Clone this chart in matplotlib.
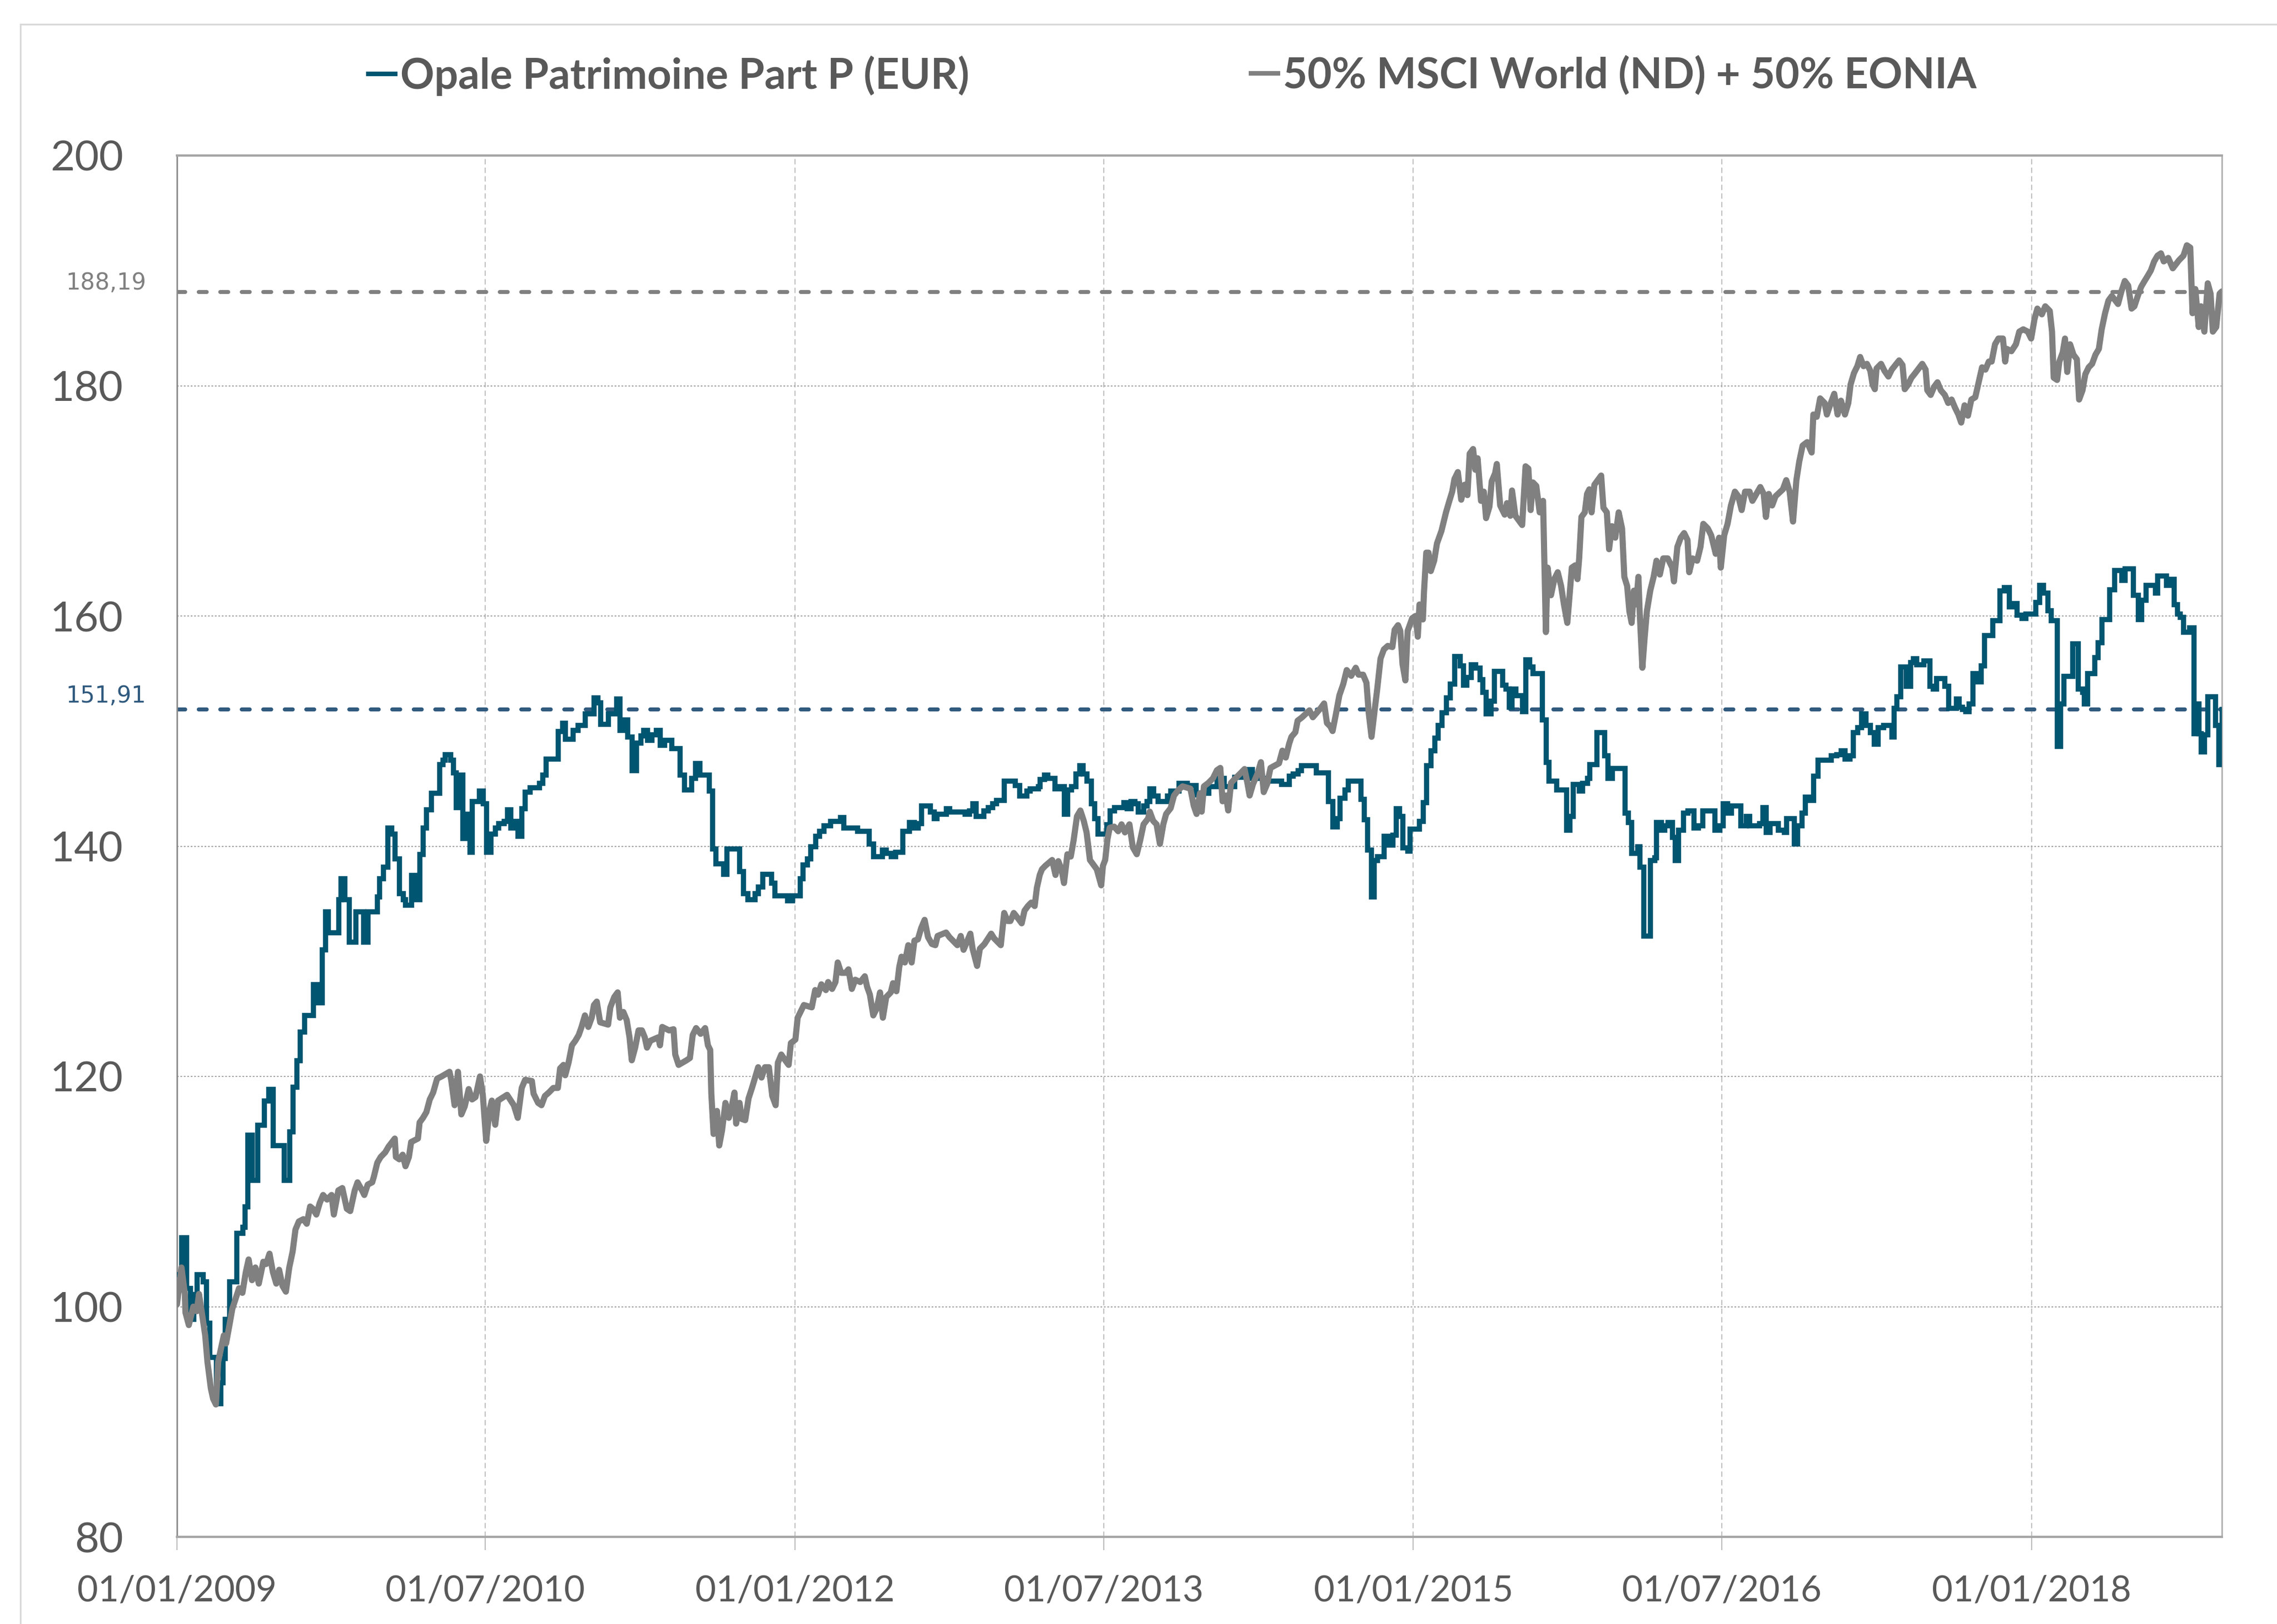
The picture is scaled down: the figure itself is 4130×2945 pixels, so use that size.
import numpy as np
import matplotlib
matplotlib.use("Agg")
import matplotlib.pyplot as plt
import matplotlib.dates as mdates
from matplotlib.lines import Line2D
from matplotlib.patches import Rectangle

plt.rcParams['font.family'] = ['Lato', 'DejaVu Sans']

START = np.datetime64("2009-01-01")

# Opale Patrimoine Part P (EUR): days since 01/01/2009 and NAV (base 100), step series
opale_days = [
    0, 8, 17, 23, 29, 35, 46, 52, 58, 69, 77, 81, 85, 93, 106, 116, 120, 125, 133, 143,
    154, 162, 170, 190, 199, 205, 212, 218, 226, 241, 249, 257, 263, 268, 286, 290, 297, 305, 317, 330,
    338, 355, 359, 365, 373, 380, 386, 394, 401, 405, 415, 421, 430, 436, 442, 450, 465, 471, 475, 485,
    490, 494, 502, 506, 514, 519, 523, 535, 542, 548, 556, 564, 570, 579, 585, 591, 597, 604, 611, 617,
    625, 642, 648, 654, 675, 683, 688, 702, 710, 723, 739, 746, 750, 764, 779, 785, 793, 798, 806, 814,
    822, 827, 833, 841, 849, 856, 864, 876, 891, 899, 912, 918, 926, 943, 949, 955, 968, 974, 997, 1003,
    1011, 1024, 1030, 1038, 1053, 1059, 1082, 1090, 1104, 1109, 1117, 1123, 1131, 1138, 1146, 1158, 1175, 1181, 1206, 1226,
    1234, 1250, 1257, 1265, 1273, 1286, 1298, 1306, 1313, 1319, 1335, 1342, 1346, 1363, 1369, 1396, 1404, 1410, 1416, 1429,
    1437, 1445, 1452, 1466, 1485, 1493, 1506, 1512, 1526, 1529, 1537, 1543, 1556, 1564, 1572, 1578, 1585, 1593, 1599, 1605,
    1612, 1620, 1626, 1632, 1647, 1653, 1661, 1678, 1684, 1690, 1697, 1703, 1713, 1719, 1724, 1730, 1738, 1755, 1761, 1775,
    1790, 1806, 1816, 1828, 1843, 1855, 1874, 1899, 1905, 1932, 1957, 1971, 1978, 1986, 1992, 2019, 2040, 2048, 2056, 2061,
    2069, 2075, 2098, 2104, 2110, 2116, 2121, 2127, 2139, 2148, 2154, 2160, 2166, 2172, 2181, 2185, 2201, 2208, 2214, 2222,
    2229, 2235, 2241, 2249, 2256, 2264, 2274, 2280, 2285, 2293, 2301, 2309, 2314, 2320, 2328, 2334, 2349, 2355, 2361, 2366,
    2372, 2384, 2390, 2397, 2403, 2419, 2426, 2431, 2445, 2462, 2468, 2474, 2485, 2491, 2499, 2503, 2516, 2530, 2536, 2543,
    2566, 2572, 2578, 2588, 2592, 2599, 2611, 2619, 2622, 2630, 2636, 2642, 2650, 2655, 2661, 2669, 2677, 2688, 2696, 2704,
    2725, 2734, 2740, 2748, 2754, 2771, 2781, 2787, 2804, 2810, 2816, 2823, 2837, 2848, 2852, 2866, 2872, 2879, 2885, 2893,
    2900, 2908, 2931, 2941, 2949, 2956, 2964, 2970, 2978, 2985, 2993, 3001, 3007, 3014, 3024, 3039, 3043, 3048, 3054, 3064,
    3072, 3077, 3083, 3095, 3106, 3112, 3118, 3133, 3139, 3153, 3158, 3164, 3170, 3176, 3182, 3189, 3197, 3203, 3218, 3230,
    3238, 3247, 3255, 3261, 3269, 3276, 3294, 3301, 3307, 3315, 3321, 3332, 3338, 3344, 3359, 3369, 3377, 3380, 3386, 3398,
    3404, 3411, 3425, 3433, 3446, 3452, 3467, 3475, 3481, 3489, 3506, 3510, 3525, 3533, 3539, 3545, 3550, 3556, 3566, 3574,
    3577, 3583, 3587, 3593, 3599, 3612, 3618, 3624,
]
opale_vals = [
    102.8, 106.0, 101.6, 98.9, 101.1, 102.8, 102.2, 98.6, 95.6, 91.6, 93.4, 95.5, 98.9, 102.2, 106.4, 106.9, 108.7, 114.9, 111.0, 115.8,
    117.9, 118.9, 114.0, 111.0, 115.2, 119.1, 121.4, 123.9, 125.3, 128.0, 126.4, 131.0, 134.3, 132.5, 135.4, 137.2, 135.4, 131.7, 134.3, 131.7,
    134.3, 135.6, 137.2, 138.2, 141.6, 141.1, 138.9, 135.9, 135.4, 134.9, 137.5, 135.4, 139.3, 141.6, 143.2, 144.6, 147.1, 147.5, 148.0, 147.5,
    146.4, 143.4, 146.2, 140.7, 142.8, 139.5, 143.9, 144.8, 143.7, 139.5, 141.1, 141.6, 142.0, 142.2, 143.2, 141.6, 142.2, 140.9, 143.3, 144.7,
    145.1, 145.5, 146.2, 147.6, 150.0, 150.7, 149.3, 150.1, 150.5, 151.5, 152.9, 152.5, 150.6, 151.5, 152.8, 150.1, 151.0, 149.5, 146.6, 149.0,
    149.6, 150.1, 149.2, 149.7, 150.1, 148.8, 149.2, 148.5, 146.2, 144.9, 145.9, 147.2, 146.2, 144.8, 139.8, 138.5, 137.6, 139.8, 137.8, 135.9,
    135.4, 135.9, 136.5, 137.6, 136.8, 135.7, 135.3, 135.7, 137.2, 138.4, 138.9, 140.0, 140.9, 141.3, 141.8, 142.2, 142.5, 141.6, 141.3, 140.2,
    139.1, 139.7, 139.4, 139.1, 139.5, 141.3, 142.1, 141.6, 142.0, 143.5, 143.0, 142.4, 142.8, 143.3, 143.0, 142.8, 143.1, 143.7, 142.6, 143.1,
    143.4, 143.7, 144.0, 145.7, 145.3, 144.4, 144.8, 145.0, 145.2, 145.8, 146.2, 145.9, 145.0, 145.2, 142.8, 144.9, 145.2, 146.3, 147.0, 146.3,
    145.7, 143.7, 142.4, 141.1, 141.9, 143.1, 143.4, 143.8, 143.3, 143.9, 143.7, 143.0, 143.5, 143.9, 145.0, 144.4, 143.9, 144.4, 144.8, 145.5,
    145.3, 144.5, 144.6, 145.2, 145.9, 145.2, 146.0, 146.7, 145.9, 145.7, 145.4, 146.1, 146.3, 146.6, 147.0, 146.4, 143.9, 141.7, 142.4, 144.2,
    144.9, 145.7, 144.1, 142.3, 139.7, 135.6, 138.8, 139.1, 140.9, 140.1, 141.0, 143.3, 142.6, 139.9, 139.6, 141.5, 142.2, 143.8, 147.0, 148.3,
    149.4, 150.5, 151.6, 152.9, 154.1, 156.5, 155.7, 154.0, 154.7, 155.8, 155.5, 154.5, 153.4, 151.5, 152.6, 155.2, 154.0, 153.7, 152.1, 153.7,
    153.1, 151.7, 156.2, 155.6, 155.0, 151.0, 147.3, 145.7, 144.9, 141.4, 142.6, 145.4, 144.8, 145.5, 145.9, 147.1, 149.9, 147.9, 145.9, 146.8,
    142.9, 142.1, 139.4, 140.0, 138.2, 132.2, 138.8, 139.0, 142.1, 141.4, 141.8, 142.1, 140.8, 138.8, 141.4, 142.9, 143.1, 141.6, 141.8, 143.1,
    141.4, 141.8, 143.7, 142.9, 143.5, 141.8, 142.6, 141.8, 142.0, 143.4, 141.2, 142.0, 141.4, 141.2, 142.4, 140.2, 141.8, 142.9, 144.3, 144.0,
    146.1, 147.5, 147.9, 148.0, 148.3, 147.6, 147.9, 149.9, 150.3, 151.5, 150.5, 149.9, 148.9, 150.3, 150.5, 149.5, 152.0, 153.0, 155.6, 153.9,
    156.0, 156.3, 155.8, 156.1, 153.9, 153.7, 154.6, 153.9, 152.0, 152.8, 152.1, 151.9, 151.7, 152.4, 155.0, 154.3, 155.7, 158.3, 159.6, 162.2,
    162.5, 160.8, 161.1, 160.1, 159.8, 160.2, 161.2, 162.7, 162.0, 160.5, 159.6, 148.7, 152.4, 154.8, 157.6, 153.7, 153.4, 152.4, 155.0, 156.4,
    157.7, 159.7, 162.3, 164.0, 163.1, 164.1, 161.8, 159.7, 161.4, 162.7, 162.0, 163.5, 162.7, 163.2, 161.0, 160.2, 159.9, 158.6, 159.0, 149.8,
    152.4, 149.8, 148.2, 149.7, 153.0, 150.5, 147.1, 151.91,
]

# 50% MSCI World (ND) + 50% EONIA: days since 01/01/2009 and level (base 100)
msci_days = [
    0, 8, 14, 15, 21, 29, 35, 39, 44, 50, 54, 60, 64, 69, 73, 79, 83, 87, 93, 98,
    104, 110, 116, 122, 127, 133, 139, 145, 153, 158, 164, 170, 176, 181, 187, 193, 199, 205, 210, 216,
    224, 230, 236, 241, 247, 253, 259, 266, 274, 278, 286, 293, 301, 307, 315, 320, 328, 332, 338, 346,
    349, 355, 361, 369, 375, 386, 388, 394, 400, 405, 411, 415, 427, 430, 436, 442, 448, 454, 461, 469,
    483, 486, 492, 498, 504, 510, 517, 523, 529, 537, 542, 548, 554, 558, 564, 569, 585, 597, 604, 611,
    617, 629, 632, 640, 646, 652, 659, 667, 675, 679, 685, 688, 694, 700, 706, 712, 717, 723, 729, 735,
    739, 744, 750, 764, 768, 775, 781, 785, 791, 797, 802, 806, 812, 818, 824, 829, 833, 839, 853, 856,
    860, 872, 880, 883, 889, 903, 909, 914, 920, 928, 936, 941, 945, 947, 951, 957, 961, 966, 972, 978,
    982, 988, 991, 997, 1001, 1007, 1013, 1019, 1030, 1036, 1042, 1049, 1055, 1061, 1065, 1071, 1078, 1084, 1088, 1096,
    1100, 1105, 1111, 1125, 1131, 1136, 1142, 1150, 1154, 1161, 1167, 1171, 1177, 1185, 1190, 1196, 1202, 1211, 1219, 1223,
    1228, 1234, 1240, 1246, 1251, 1257, 1265, 1269, 1275, 1280, 1284, 1290, 1296, 1302, 1307, 1313, 1319, 1325, 1331, 1338,
    1344, 1348, 1363, 1369, 1383, 1389, 1394, 1400, 1406, 1410, 1418, 1423, 1431, 1443, 1448, 1460, 1466, 1472, 1477, 1483,
    1491, 1497, 1502, 1508, 1514, 1520, 1524, 1529, 1533, 1539, 1551, 1557, 1562, 1568, 1572, 1578, 1584, 1589, 1595, 1601,
    1607, 1612, 1618, 1624, 1630, 1638, 1641, 1645, 1649, 1653, 1661, 1668, 1674, 1680, 1688, 1694, 1701, 1707, 1713, 1721,
    1724, 1730, 1736, 1742, 1748, 1753, 1761, 1767, 1775, 1782, 1796, 1802, 1807, 1813, 1816, 1820, 1828, 1836, 1843, 1849,
    1853, 1859, 1863, 1868, 1876, 1884, 1892, 1897, 1901, 1907, 1915, 1921, 1926, 1932, 1938, 1953, 1959, 1965, 1971, 1975,
    1982, 1986, 1994, 2007, 2013, 2027, 2033, 2038, 2044, 2048, 2054, 2060, 2067, 2073, 2081, 2089, 2094, 2102, 2108, 2112,
    2117, 2123, 2127, 2133, 2139, 2146, 2154, 2158, 2164, 2168, 2172, 2177, 2181, 2189, 2195, 2199, 2202, 2208, 2210, 2214,
    2218, 2222, 2228, 2233, 2241, 2249, 2255, 2260, 2264, 2270, 2276, 2282, 2287, 2291, 2297, 2301, 2305, 2311, 2316, 2320,
    2326, 2330, 2336, 2339, 2345, 2353, 2357, 2363, 2366, 2372, 2384, 2390, 2395, 2399, 2403, 2409, 2415, 2421, 2426, 2429,
    2435, 2441, 2447, 2453, 2458, 2464, 2468, 2472, 2478, 2482, 2485, 2489, 2495, 2499, 2503, 2507, 2512, 2518, 2524, 2528,
    2534, 2538, 2543, 2549, 2555, 2561, 2565, 2570, 2574, 2578, 2582, 2586, 2590, 2592, 2597, 2601, 2605, 2611, 2617, 2622,
    2628, 2634, 2642, 2650, 2653, 2659, 2665, 2671, 2677, 2680, 2686, 2694, 2700, 2705, 2713, 2719, 2727, 2733, 2736, 2742,
    2748, 2754, 2761, 2767, 2773, 2779, 2787, 2792, 2806, 2812, 2816, 2821, 2827, 2833, 2846, 2852, 2858, 2864, 2870, 2875,
    2881, 2889, 2897, 2900, 2906, 2912, 2920, 2924, 2931, 2937, 2943, 2949, 2956, 2962, 2966, 2972, 2978, 2983, 2989, 2995,
    3001, 3005, 3009, 3012, 3020, 3026, 3033, 3039, 3052, 3058, 3062, 3068, 3074, 3079, 3093, 3099, 3102, 3108, 3114, 3120,
    3126, 3133, 3139, 3145, 3151, 3157, 3162, 3168, 3174, 3180, 3187, 3193, 3199, 3205, 3211, 3216, 3222, 3228, 3236, 3240,
    3243, 3251, 3259, 3265, 3272, 3280, 3286, 3292, 3297, 3305, 3311, 3319, 3323, 3326, 3332, 3336, 3342, 3346, 3350, 3355,
    3361, 3367, 3371, 3377, 3382, 3388, 3394, 3400, 3406, 3411, 3417, 3423, 3429, 3440, 3446, 3452, 3458, 3464, 3469, 3475,
    3481, 3487, 3492, 3498, 3504, 3510, 3516, 3521, 3529, 3537, 3548, 3556, 3562, 3568, 3572, 3577, 3583, 3587, 3593, 3599,
    3604, 3608, 3614, 3620, 3624,
]
msci_vals = [
    100.2, 103.4, 101.1, 99.5, 98.4, 100.0, 99.6, 101.1, 99.5, 97.5, 95.2, 92.9, 92.0, 91.5, 95.2, 96.6, 97.5, 96.8, 98.4, 99.8,
    100.7, 101.6, 101.2, 103.0, 104.1, 102.3, 103.4, 102.0, 103.9, 103.7, 104.6, 103.0, 102.0, 103.2, 101.8, 101.3, 103.4, 104.8, 106.7, 107.4,
    107.6, 107.2, 108.7, 108.5, 108.0, 109.0, 109.7, 109.3, 109.7, 108.0, 110.1, 110.3, 108.5, 108.3, 110.1, 110.8, 110.1, 109.7, 110.6, 110.8,
    111.3, 112.5, 113.0, 113.4, 113.9, 114.6, 113.0, 112.8, 113.2, 112.2, 113.0, 114.3, 114.6, 116.0, 116.4, 116.9, 118.0, 118.6, 119.8, 120.0,
    120.4, 119.7, 117.5, 120.4, 116.7, 117.4, 118.9, 118.0, 118.2, 120.0, 118.4, 114.4, 117.1, 117.9, 115.8, 117.9, 118.4, 117.5, 116.4, 119.0,
    119.7, 119.6, 118.5, 117.7, 117.5, 118.3, 118.6, 119.0, 119.0, 120.7, 121.0, 120.1, 121.2, 122.7, 123.1, 123.6, 124.3, 125.3, 124.3, 125.1,
    126.2, 126.5, 124.7, 124.5, 126.0, 126.9, 127.3, 125.1, 125.6, 124.9, 123.4, 121.4, 122.5, 124.0, 124.0, 123.4, 122.5, 123.1, 123.4, 122.7,
    124.3, 124.0, 124.1, 121.9, 121.0, 121.4, 121.6, 123.6, 124.2, 123.7, 124.2, 122.7, 122.3, 118.5, 115.0, 117.0, 114.0, 115.3, 117.7, 116.4,
    117.1, 118.6, 115.9, 117.7, 116.3, 116.2, 118.1, 119.0, 120.8, 119.9, 120.8, 120.8, 118.3, 117.5, 121.2, 121.9, 121.4, 121.0, 122.9, 123.2,
    125.1, 125.6, 126.2, 126.0, 127.5, 127.1, 128.0, 127.5, 128.2, 127.6, 128.2, 129.9, 129.0, 129.0, 129.3, 127.6, 128.4, 128.2, 128.7, 127.8,
    127.1, 125.3, 125.9, 127.3, 125.1, 126.9, 127.3, 128.1, 127.4, 129.5, 130.4, 129.9, 131.4, 129.9, 131.8, 131.9, 132.9, 133.6, 132.1, 131.5,
    131.4, 132.2, 132.5, 132.1, 131.4, 132.2, 131.0, 131.7, 132.4, 131.1, 129.6, 131.1, 131.5, 132.4, 132.0, 131.4, 134.2, 133.5, 133.5, 134.2,
    133.7, 133.3, 134.4, 134.8, 135.1, 134.8, 136.4, 137.5, 138.0, 138.3, 138.8, 137.5, 138.7, 137.9, 136.8, 139.3, 139.1, 140.5, 142.6, 143.1,
    142.2, 141.2, 138.8, 138.4, 138.0, 136.6, 138.3, 138.8, 140.6, 141.6, 141.7, 141.3, 141.9, 141.2, 141.9, 139.9, 139.3, 140.5, 141.9, 142.4,
    143.0, 142.2, 141.9, 140.2, 141.9, 142.8, 143.3, 144.4, 144.9, 145.2, 145.0, 143.5, 142.8, 144.6, 143.0, 145.2, 145.5, 145.9, 146.6, 146.8,
    143.9, 144.4, 143.1, 145.5, 145.9, 146.3, 146.7, 145.5, 144.4, 145.4, 146.3, 147.3, 144.7, 145.4, 146.8, 147.2, 148.3, 147.7, 148.9, 149.5,
    149.9, 150.9, 151.2, 151.8, 151.2, 152.0, 152.4, 150.7, 150.4, 150.0, 151.5, 153.1, 154.1, 155.3, 154.8, 155.5, 154.9, 154.9, 154.2, 151.6,
    149.5, 152.0, 153.6, 156.3, 157.1, 157.4, 157.3, 158.8, 159.2, 158.7, 155.8, 154.4, 158.7, 159.8, 160.0, 158.2, 161.0, 159.7, 162.1, 165.5,
    165.5, 163.9, 164.8, 166.3, 167.4, 169.0, 170.0, 170.8, 171.9, 172.5, 170.1, 171.4, 170.5, 174.1, 174.5, 172.7, 173.7, 170.0, 170.8, 168.5,
    169.5, 171.7, 172.4, 173.2, 169.6, 168.8, 169.8, 168.7, 170.9, 168.7, 167.9, 173.0, 172.8, 169.2, 171.6, 171.3, 169.0, 170.0, 158.6, 164.2,
    161.8, 163.2, 163.8, 162.6, 161.0, 159.4, 161.8, 164.2, 164.4, 163.2, 165.0, 168.6, 169.0, 170.6, 171.0, 169.0, 171.4, 171.8, 172.2, 169.4,
    169.0, 165.8, 167.8, 166.8, 169.0, 167.6, 163.4, 162.6, 160.4, 159.4, 162.2, 161.0, 163.4, 160.6, 155.5, 158.1, 160.4, 162.2, 163.4, 164.8,
    163.6, 165.0, 165.0, 164.2, 163.0, 166.0, 166.8, 167.2, 166.6, 163.8, 165.0, 164.8, 166.0, 168.0, 167.6, 167.0, 165.4, 166.8, 164.2, 167.0,
    168.0, 169.6, 170.8, 170.4, 169.2, 170.8, 170.8, 170.0, 171.2, 170.6, 168.6, 170.6, 169.6, 170.4, 171.0, 171.8, 170.8, 168.2, 171.8, 173.4,
    174.8, 175.1, 174.2, 177.5, 177.3, 178.9, 178.5, 177.5, 178.5, 179.3, 177.5, 178.7, 177.5, 178.5, 180.1, 181.1, 181.7, 182.5, 181.7, 181.9,
    181.3, 180.1, 179.7, 181.5, 181.9, 181.3, 180.8, 181.4, 182.2, 181.8, 179.7, 180.1, 180.7, 181.0, 181.9, 181.4, 179.6, 179.2, 179.9, 180.3,
    179.6, 179.2, 178.5, 178.8, 178.1, 177.5, 176.8, 178.3, 177.4, 178.8, 179.0, 180.3, 181.6, 181.4, 182.1, 182.1, 183.6, 184.1, 184.1, 182.1,
    183.2, 183.0, 183.6, 184.7, 184.9, 184.7, 184.1, 185.8, 186.7, 186.2, 186.9, 186.5, 184.7, 180.7, 180.5, 182.1, 182.9, 184.1, 181.2, 183.6,
    182.7, 182.3, 178.8, 179.6, 181.0, 181.6, 181.9, 182.7, 183.2, 184.9, 186.3, 187.4, 187.8, 187.1, 188.2, 189.1, 188.7, 186.7, 186.9, 187.8,
    188.6, 189.1, 189.5, 190.0, 190.8, 191.3, 191.5, 190.8, 191.1, 190.2, 190.9, 191.3, 192.2, 192.0, 186.3, 188.4, 185.1, 186.9, 184.7, 188.9,
    188.0, 184.7, 185.1, 188.0, 188.19,
]

opale_label = "Opale Patrimoine Part P (EUR)"
msci_label = "50% MSCI World (ND) + 50% EONIA"
opale_last = 151.91
msci_last = 188.19

y_ticks = [80, 100, 120, 140, 160, 180, 200]
x_tick_dates = ["2009-01-01", "2010-07-01", "2012-01-01", "2013-07-01",
                "2015-01-01", "2016-07-01", "2018-01-01"]

BLUE = "#005570"
BLUE_DASH = "#305a7e"
GREY = "#808080"
TEXT = "#595959"

opale_dates = START + np.array(opale_days).astype("timedelta64[D]")
msci_dates = START + np.array(msci_days).astype("timedelta64[D]")

W, H = 4130, 2945
fig = plt.figure(figsize=(W / 100, H / 100), dpi=100)

# light chart-area border (cut by the image edges on the right and bottom)
fig.patches.append(Rectangle((37 / W, -0.05), 1.2, 1.05 - 44 / H, transform=fig.transFigure,
                             fill=False, edgecolor="#d9d9d9", lw=2.2))

ax = fig.add_axes([321 / W, 158 / H, 3709 / W, 2505 / H])

ax.axhline(msci_last, color=GREY, lw=5.2, linestyle=(0, (2.0, 3.4)),
           dash_capstyle="round", zorder=2)
ax.axhline(opale_last, color=BLUE_DASH, lw=5.2, linestyle=(0, (2.0, 3.4)),
           dash_capstyle="round", zorder=2)

ax.plot(opale_dates, opale_vals, drawstyle="steps-post", color=BLUE, lw=6.8,
        solid_joinstyle="miter", zorder=3)
ax.plot(msci_dates, msci_vals, color=GREY, lw=8, solid_joinstyle="round",
        solid_capstyle="round", zorder=4)

ax.set_ylim(80, 200)
ax.set_yticks(y_ticks)
ax.set_xlim(opale_dates[0], opale_dates[-1])
ax.set_xticks(np.array(x_tick_dates, dtype="datetime64[D]"))
ax.xaxis.set_major_formatter(mdates.DateFormatter("%d/%m/%Y"))

ax.yaxis.grid(True, color="#a6a6a6", linestyle=(0, (1.5, 1.5)), lw=1.5, zorder=0)
ax.xaxis.grid(True, color="#c0c0c0", linestyle=(0, (5, 3)), lw=1.4, zorder=0)
ax.set_axisbelow(True)

for side in ["top", "bottom"]:
    ax.spines[side].set_color("#a6a6a6")
    ax.spines[side].set_linewidth(3)
ax.spines["left"].set_color("#8c8c8c")
ax.spines["left"].set_linewidth(2)
ax.spines["right"].set_color("#b0b0b0")
ax.spines["right"].set_linewidth(2)

ax.tick_params(axis="x", direction="out", length=17, width=1.2, color="#b0b0b0",
               labelsize=47, labelcolor=TEXT, pad=32)
ax.tick_params(axis="y", length=0, labelsize=55, labelcolor=TEXT, pad=70)

ax.annotate(f"{msci_last:.2f}".replace(".", ","), xy=(0, msci_last),
            xycoords=("axes fraction", "data"), xytext=(-40, 11.5),
            textcoords="offset points", ha="right", va="center",
            fontsize=30, color=GREY, family="DejaVu Sans")
ax.annotate(f"{opale_last:.2f}".replace(".", ","), xy=(0, opale_last),
            xycoords=("axes fraction", "data"), xytext=(-40, 17),
            textcoords="offset points", ha="right", va="center",
            fontsize=30, color=BLUE_DASH, family="DejaVu Sans")

leg_kw = dict(loc="center left", frameon=False, borderpad=0, borderaxespad=0,
              handlelength=0.75, handletextpad=0.06, labelcolor=TEXT,
              prop={"weight": "bold", "size": 55})
fig.legend([Line2D([], [], color=BLUE, lw=6, solid_capstyle="butt")], [opale_label],
           bbox_to_anchor=(664 / W, 1 - 137 / H), **leg_kw)
fig.legend([Line2D([], [], color=GREY, lw=6, solid_capstyle="butt")], [msci_label],
           bbox_to_anchor=(2265 / W, 1 - 137 / H), **leg_kw)

fig.savefig("out.png", dpi=100)
